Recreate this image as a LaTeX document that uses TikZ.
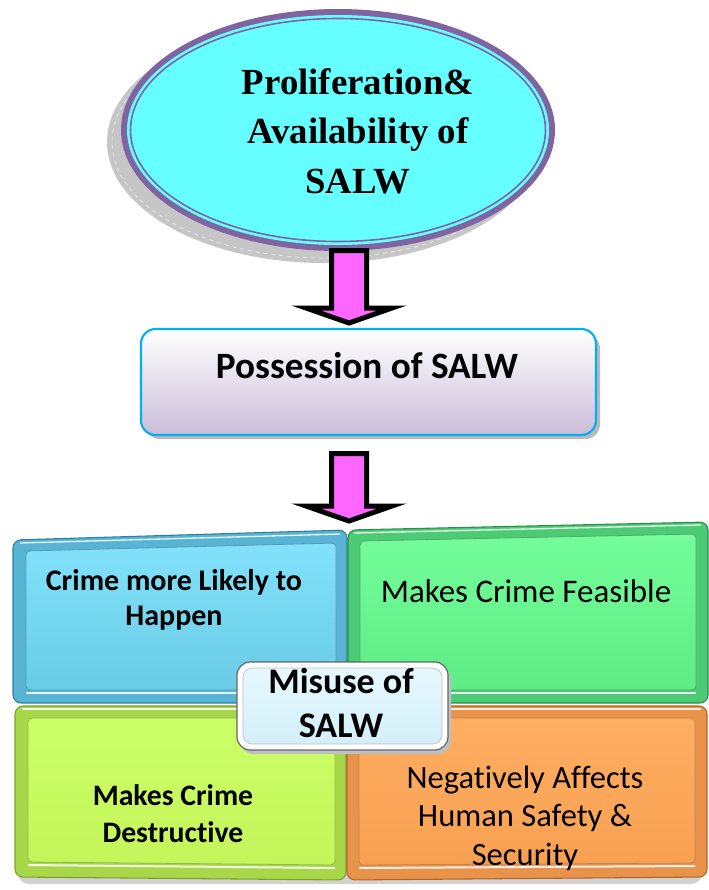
\documentclass[tikz,border=0pt]{standalone}
\usepackage{fontspec}
\setmainfont{Liberation Serif}
\newfontfamily\calib[Ligatures=NoCommon]{Carlito}
\usetikzlibrary{calc}
\definecolor{ellcyan}{HTML}{66FFFF}
\definecolor{ellpurple}{HTML}{8064A2}
\definecolor{arrmag}{HTML}{FF66FF}
\definecolor{boxcyan}{HTML}{00B0F0}
\definecolor{lav}{HTML}{CABDD9}
\definecolor{lavmid}{HTML}{ECE8F1}
\definecolor{brim}{HTML}{58B4D4}\definecolor{bedge}{HTML}{2F7F9E}
\definecolor{btop}{HTML}{82E2FB}\definecolor{bbot}{HTML}{6ACBE6}
\definecolor{grim}{HTML}{4CCB75}\definecolor{gedge}{HTML}{2A8F4A}
\definecolor{gtop}{HTML}{74FD9A}\definecolor{gbot}{HTML}{5EEC86}
\definecolor{lrim}{HTML}{A8D84A}\definecolor{ledge}{HTML}{78A22A}
\definecolor{ltop}{HTML}{CCFF66}\definecolor{lbot}{HTML}{C4F55B}
\definecolor{orim}{HTML}{E8924A}\definecolor{oedge}{HTML}{B06528}
\definecolor{otop}{HTML}{FFAE62}\definecolor{obot}{HTML}{F8A052}
\definecolor{mface}{HTML}{E6F8FE}\definecolor{mfaceb}{HTML}{D4EFF8}
\tikzset{
  barrow/.style={fill=arrmag, draw=black, line width=3.75pt, line join=miter},
  rimstyle/.style={line width=0.8pt, rounded corners=6pt},
  facestyle/.style={rounded corners=3pt},
  hilite/.style={white, line width=1.5pt, opacity=0.85},
  txtB/.style={font=\calib\bfseries, align=center, text=black},
  txtR/.style={font=\calib, align=center, text=black}
}
\newcommand\blockarrow[2]{%
  \filldraw[barrow] ($(#1)+(-17.5,0)$) -- ($(#1)+(17.5,0)$) -- ($(#2)+(17.5,-15)$)
    -- ($(#2)+(43,-15)$) -- (#2) -- ($(#2)+(-43,-15)$) -- ($(#2)+(-17.5,-15)$) -- cycle;}
\begin{document}
\begin{tikzpicture}[x=0.75pt,y=-0.75pt]
\useasboundingbox (0,0) rectangle (709,890);

% ---------- ellipse ----------
\fill[gray!45] (324,142) ellipse [x radius=217, y radius=121];
\draw[white, dashed, line width=0.5pt, opacity=0.7] (324,142) ellipse [x radius=212, y radius=116];
\fill[ellpurple] (338,130) ellipse [x radius=217, y radius=121];
\fill[ellcyan] (338,130) ellipse [x radius=211, y radius=115];
\draw[ellpurple, line width=1.2pt] (338,130) ellipse [x radius=207.5, y radius=111.5];
\node[font=\bfseries\fontsize{27.6}{37.1}\selectfont, align=center] (prolif) at (358,131)
  {Proliferation\&\\Availability of\\SALW};

% ---------- arrow 1 ----------
\coordinate (a1s) at (349,250.5);
\coordinate (a1e) at (349,323);
\blockarrow{a1s}{a1e}

% ---------- possession box ----------
\fill[gray!55, rounded corners=11pt] (145,334) rectangle (600,439);
\shade[top color=white, middle color=lavmid, bottom color=lav, rounded corners=11pt] (141,329) rectangle (596,435);
\draw[boxcyan, line width=1.6pt, rounded corners=11pt] (141,329) rectangle (596,435);
\node[font=\calib\bfseries\fontsize{27.9}{33}\selectfont, anchor=base] (poss) at (367,378) {Possession of SALW};

% ---------- quadrants ----------
\fill[gray!35, rounded corners=8pt] (18,712) rectangle (702,884);
% blue
\filldraw[rimstyle, fill=brim, draw=bedge] (13,703) -- (13,540) -- (347,530) -- (347,703) -- cycle;
\shade[facestyle, top color=btop, bottom color=bbot] (26,690) -- (26,551) -- (336,543) -- (336,690) -- cycle;
\draw[facestyle, bedge!80, line width=0.6pt] (26,690) -- (26,551) -- (336,543) -- (336,690) -- cycle;
\draw[hilite] (26,693) -- (336,693);
\draw[hilite, line width=1pt] (20,543) -- (340,534);
% green
\filldraw[rimstyle, fill=grim, draw=gedge] (348,703) -- (348,530) -- (708,522) -- (708,703) -- cycle;
\shade[facestyle, top color=gtop, bottom color=gbot] (360,690) -- (360,541) -- (696,534) -- (696,690) -- cycle;
\draw[facestyle, gedge!80, line width=0.6pt] (360,690) -- (360,541) -- (696,534) -- (696,690) -- cycle;
\draw[hilite] (360,693) -- (696,693);
\draw[hilite, line width=1pt] (354,533) -- (701,525);
% lime
\filldraw[rimstyle, fill=lrim, draw=ledge] (15,877) -- (15,706) -- (346,706) -- (346,880) -- cycle;
\shade[facestyle, top color=ltop, bottom color=lbot] (28,862) -- (28,718) -- (335,718) -- (335,865) -- cycle;
\draw[facestyle, ledge!80, line width=0.6pt] (28,862) -- (28,718) -- (335,718) -- (335,865) -- cycle;
\draw[hilite] (28,865) -- (335,868);
\draw[hilite, line width=1pt] (22,709) -- (340,709);
% orange
\filldraw[rimstyle, fill=orim, draw=oedge] (347,880) -- (347,706) -- (707,706) -- (707,877) -- cycle;
\shade[facestyle, top color=otop, bottom color=obot] (359,865) -- (359,718) -- (695,718) -- (695,863) -- cycle;
\draw[facestyle, oedge!80, line width=0.6pt] (359,865) -- (359,718) -- (695,718) -- (695,863) -- cycle;
\draw[hilite] (359,868) -- (695,866);
\draw[hilite, line width=1pt] (353,709) -- (701,709);

% quadrant texts
\node[txtB, font=\calib\bfseries\fontsize{22.5}{26.25}\selectfont] (likely) at (174,600) {Crime more Likely to\\Happen};
\node[txtR, font=\calib\fontsize{24.75}{29}\selectfont, anchor=base] (feas) at (526,602) {Makes Crime Feasible};
\node[txtB, font=\calib\bfseries\fontsize{22.3}{27.75}\selectfont] (destr) at (173,814) {Makes Crime\\Destructive};
\node[txtR, font=\calib\fontsize{24.4}{28.9}\selectfont] (neg) at (525,818) {Negatively Affects\\Human Safety \&\\Security};

% ---------- misuse box ----------
\fill[gray!50, rounded corners=10pt] (240,666) rectangle (451,754);
\filldraw[fill=white, draw=black!60, line width=0.9pt, rounded corners=10pt] (237,662) rectangle (448,750);
\shade[top color=mface, bottom color=mfaceb, rounded corners=7pt] (243,668) rectangle (442,744);
\draw[black!25, line width=0.5pt, rounded corners=7pt] (243,668) rectangle (442,744);
\node[txtB, font=\calib\bfseries\fontsize{27}{33}\selectfont] (misuse) at (341,702.5) {Misuse of\\SALW};

% ---------- arrow 2 ----------
\coordinate (a2s) at (349,453.5);
\coordinate (a2e) at (349,521);
\blockarrow{a2s}{a2e}
\end{tikzpicture}
\end{document}
